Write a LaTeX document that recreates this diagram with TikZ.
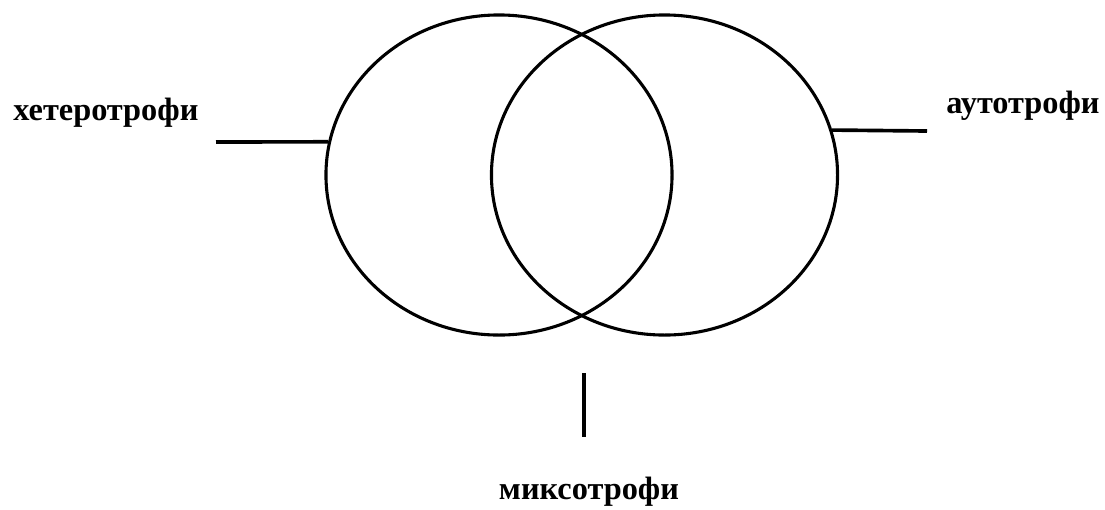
\documentclass[tikz,border=0pt]{standalone}
\usepackage{fontspec}
\setmainfont{Liberation Serif}
\usetikzlibrary{shapes.geometric}

\begin{document}
\begin{tikzpicture}[x=0.025cm, y=-0.025cm,
    set/.style={ellipse, draw, line width=2.2pt, minimum width=8.65cm, minimum height=8cm, inner sep=0pt},
    tick/.style={line width=2.6pt},
    lbl/.style={font=\fontsize{23}{27}\selectfont\bfseries, inner sep=0pt}
  ]
  \useasboundingbox (0,0) rectangle (1105,509);

  % Sets
  \node[set] (het) at (499,175) {};
  \node[set] (aut) at (664.5,175) {};

  % Labels
  \node[lbl, anchor=base west] (hetlab) at (13,120) {хетеротрофи};
  \node[lbl, anchor=base west] (autlab) at (946,113) {аутотрофи};
  \node[lbl, anchor=base] (mixlab) at (589,499) {миксотрофи};

  % Pointer lines
  \coordinate (hetend) at (216,142);
  \coordinate (autend) at (927,131);
  \coordinate (mixtop) at (584,373);
  \coordinate (mixbot) at (584,437);
  \draw[tick] (het.169) -- (hetend);
  \draw[tick] (aut.15) -- (autend);
  \draw[tick] (mixtop) -- (mixbot);
\end{tikzpicture}
\end{document}
